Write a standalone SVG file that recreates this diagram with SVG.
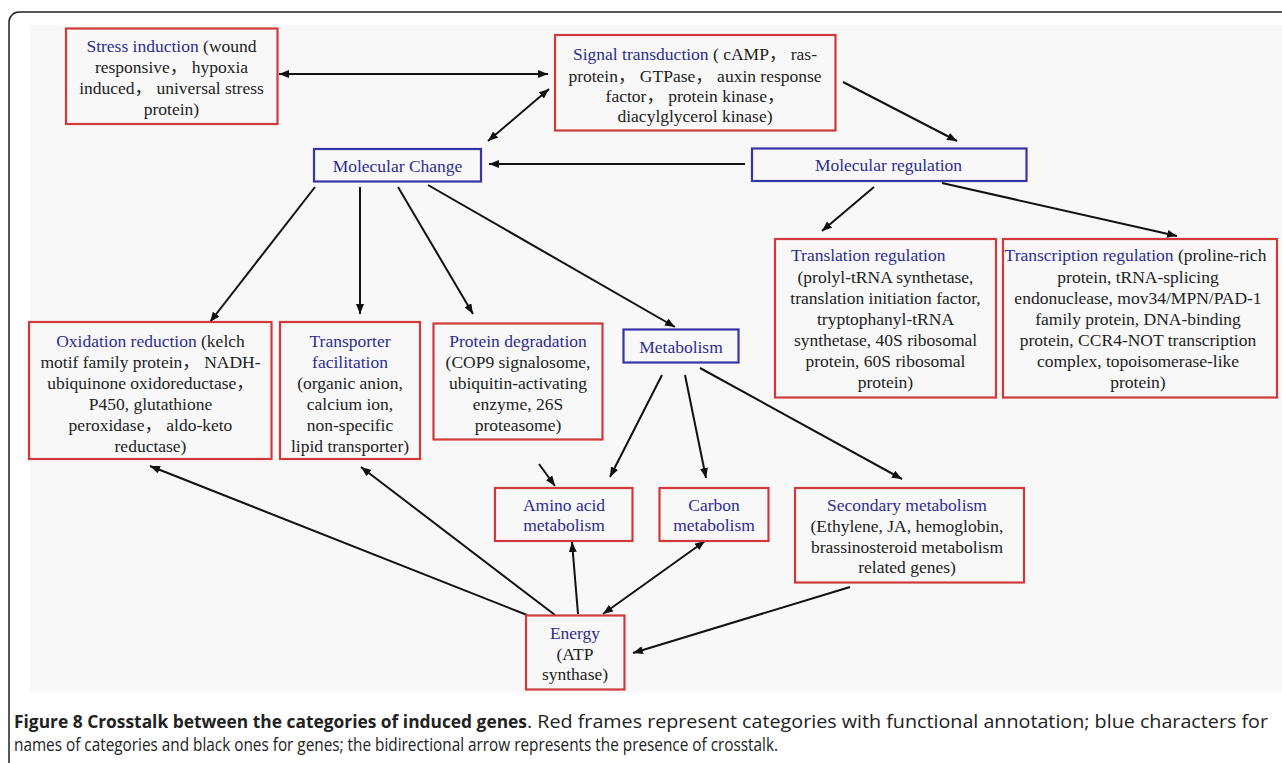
<svg xmlns="http://www.w3.org/2000/svg" width="1282" height="763" viewBox="0 0 1282 763">
<style>
.t{font-family:"Liberation Serif","Noto Sans CJK SC",serif;font-size:17.5px;fill:#222;text-anchor:middle}
.b{fill:#2d2d90}
.rb{fill:none;stroke:#d03a3a;stroke-width:2.2}
.bb{fill:none;stroke:#3535a5;stroke-width:2.2}
.c{fill:none;stroke:#111;stroke-width:2}
.cap{font-family:"Open Sans","Liberation Sans",sans-serif;font-size:18px;fill:#222}
</style>
<defs>
<marker id="ah" viewBox="0 0 10 8" refX="10" refY="4" markerWidth="10" markerHeight="8" markerUnits="userSpaceOnUse" orient="auto-start-reverse">
<path d="M0,0 L10,4 L0,8 z" fill="#111"/>
</marker>
</defs>
<rect x="30" y="25" width="1252" height="668" fill="#f8f8f8"/>
<path d="M9,763 V22 A10,10 0 0 1 19,12 H1282" fill="none" stroke="#222" stroke-width="1.5"/>

<g id="connectors">
<line class="c" x1="279" y1="74" x2="548" y2="74" marker-start="url(#ah)" marker-end="url(#ah)"/>
<line class="c" x1="488" y1="141" x2="549" y2="89" marker-start="url(#ah)" marker-end="url(#ah)"/>
<line class="c" x1="843" y1="82" x2="957" y2="141" marker-end="url(#ah)"/>
<line class="c" x1="745" y1="164" x2="489" y2="164" marker-end="url(#ah)"/>
<line class="c" x1="874" y1="187" x2="822" y2="231" marker-end="url(#ah)"/>
<line class="c" x1="942" y1="183" x2="1177" y2="236" marker-end="url(#ah)"/>
<line class="c" x1="315" y1="187" x2="210" y2="322" marker-end="url(#ah)"/>
<line class="c" x1="360" y1="187" x2="360" y2="314" marker-end="url(#ah)"/>
<line class="c" x1="398" y1="187" x2="473" y2="314" marker-end="url(#ah)"/>
<line class="c" x1="428" y1="185" x2="675" y2="327" marker-end="url(#ah)"/>
<line class="c" x1="662" y1="375" x2="610" y2="477" marker-end="url(#ah)"/>
<line class="c" x1="685" y1="375" x2="706" y2="478" marker-end="url(#ah)"/>
<line class="c" x1="700" y1="368" x2="902" y2="479" marker-end="url(#ah)"/>
<line class="c" x1="539" y1="464" x2="555" y2="486" marker-end="url(#ah)"/>
<line class="c" x1="578" y1="614" x2="572" y2="542" marker-end="url(#ah)"/>
<line class="c" x1="603" y1="614" x2="705" y2="541" marker-start="url(#ah)" marker-end="url(#ah)"/>
<line class="c" x1="850" y1="587" x2="633" y2="653" marker-end="url(#ah)"/>
<line class="c" x1="527" y1="615" x2="150" y2="466" marker-end="url(#ah)"/>
<line class="c" x1="555" y1="615" x2="361" y2="467" marker-end="url(#ah)"/>
</g>

<g id="stress">
<rect class="rb" x="66" y="28.5" width="211.5" height="95.5"/>
<text class="t" x="171.5" y="51.7"><tspan class="b">Stress induction</tspan> (wound</text>
<text class="t" x="171.5" y="72.7">responsive， hypoxia</text>
<text class="t" x="171.5" y="94">induced， universal stress</text>
<text class="t" x="171.5" y="115">protein)</text>
</g>

<g id="signal">
<rect class="rb" x="555" y="35" width="280.5" height="95.5"/>
<text class="t" x="695" y="60"><tspan class="b">Signal transduction</tspan> ( cAMP， ras-</text>
<text class="t" x="695" y="81.5">protein， GTPase， auxin response</text>
<text class="t" x="695" y="101.7">factor， protein kinase，</text>
<text class="t" x="695" y="121.7">diacylglycerol kinase)</text>
</g>

<g id="molecular-change">
<rect class="bb" x="314" y="149" width="167" height="32.5"/>
<text class="t b" x="397.5" y="172">Molecular Change</text>
</g>

<g id="molecular-regulation">
<rect class="bb" x="752" y="148.5" width="274.5" height="32.5"/>
<text class="t b" x="888.5" y="171">Molecular regulation</text>
</g>

<g id="translation">
<rect class="rb" x="775" y="239" width="221" height="158.5"/>
<text class="t b" x="791" y="261" style="text-anchor:start">Translation regulation</text>
<text class="t" x="885.5" y="282.5">(prolyl-tRNA synthetase,</text>
<text class="t" x="885.5" y="303.5">translation initiation factor,</text>
<text class="t" x="885.5" y="324.5">tryptophanyl-tRNA</text>
<text class="t" x="885.5" y="345.5">synthetase, 40S ribosomal</text>
<text class="t" x="885.5" y="366.5">protein, 60S ribosomal</text>
<text class="t" x="885.5" y="387.5">protein)</text>
</g>

<g id="transcription">
<rect class="rb" x="1003" y="239" width="274" height="158.5"/>
<text class="t" x="1135.5" y="261"><tspan class="b">Transcription regulation</tspan> (proline-rich</text>
<text class="t" x="1138" y="282.5">protein, tRNA-splicing</text>
<text class="t" x="1138" y="303.5">endonuclease, mov34/MPN/PAD-1</text>
<text class="t" x="1138" y="324.5">family protein, DNA-binding</text>
<text class="t" x="1138" y="345.5">protein, CCR4-NOT transcription</text>
<text class="t" x="1138" y="366.5">complex, topoisomerase-like</text>
<text class="t" x="1138" y="387.5">protein)</text>
</g>

<g id="oxidation">
<rect class="rb" x="29" y="322" width="242.5" height="137"/>
<text class="t" x="150.5" y="347"><tspan class="b">Oxidation reduction</tspan> (kelch</text>
<text class="t" x="150.5" y="368">motif family protein， NADH-</text>
<text class="t" x="150.5" y="389">ubiquinone oxidoreductase，</text>
<text class="t" x="150.5" y="410">P450, glutathione</text>
<text class="t" x="150.5" y="431">peroxidase， aldo-keto</text>
<text class="t" x="150.5" y="452">reductase)</text>
</g>

<g id="transporter">
<rect class="rb" x="280" y="322" width="140" height="137"/>
<text class="t b" x="350" y="347">Transporter</text>
<text class="t b" x="350" y="368">facilitation</text>
<text class="t" x="350" y="389">(organic anion,</text>
<text class="t" x="350" y="410">calcium ion,</text>
<text class="t" x="350" y="431">non-specific</text>
<text class="t" x="350" y="452">lipid transporter)</text>
</g>

<g id="protein-degradation">
<rect class="rb" x="433.5" y="323.5" width="169" height="116"/>
<text class="t b" x="518" y="347">Protein degradation</text>
<text class="t" x="518" y="368">(COP9 signalosome,</text>
<text class="t" x="518" y="389">ubiquitin-activating</text>
<text class="t" x="518" y="410">enzyme, 26S</text>
<text class="t" x="518" y="431">proteasome)</text>
</g>

<g id="metabolism">
<rect class="bb" x="623.5" y="329.5" width="115" height="33"/>
<text class="t b" x="681" y="352.5">Metabolism</text>
</g>

<g id="amino-acid">
<rect class="rb" x="495" y="488" width="137.5" height="53"/>
<text class="t b" x="564" y="510.7">Amino acid</text>
<text class="t b" x="564" y="531">metabolism</text>
</g>

<g id="carbon">
<rect class="rb" x="659.5" y="488" width="109" height="53"/>
<text class="t b" x="714" y="510.7">Carbon</text>
<text class="t b" x="714" y="531">metabolism</text>
</g>

<g id="secondary">
<rect class="rb" x="795" y="488" width="229" height="94.5"/>
<text class="t b" x="907" y="510.7">Secondary metabolism</text>
<text class="t" x="907" y="531.7">(Ethylene, JA, hemoglobin,</text>
<text class="t" x="907" y="552.7">brassinosteroid  metabolism</text>
<text class="t" x="907" y="573.3">related genes)</text>
</g>

<g id="energy">
<rect class="rb" x="526" y="615.5" width="98.5" height="74"/>
<text class="t b" x="575" y="639">Energy</text>
<text class="t" x="575" y="659.5">(ATP</text>
<text class="t" x="575" y="680">synthase)</text>
</g>

<g id="caption">
<text class="cap" x="14" y="728" font-weight="bold" textLength="513" lengthAdjust="spacingAndGlyphs">Figure 8 Crosstalk between the categories of induced genes</text>
<text class="cap" x="527" y="728" textLength="741" lengthAdjust="spacingAndGlyphs">. Red frames represent categories with functional annotation; blue characters for</text>
<text class="cap" x="14" y="751" textLength="764" lengthAdjust="spacingAndGlyphs">names of categories and black ones for genes; the bidirectional arrow represents the presence of crosstalk.</text>
</g>
</svg>
